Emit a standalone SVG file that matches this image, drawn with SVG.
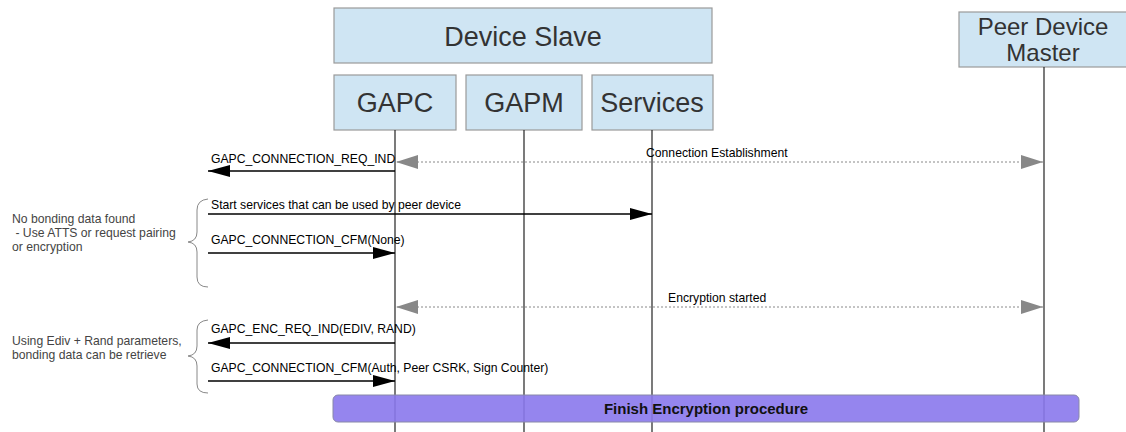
<svg xmlns="http://www.w3.org/2000/svg" width="1126" height="432" viewBox="0 0 1126 432">
<style>
.box{fill:#cfe5f3;stroke:#9a9a9a;stroke-width:1.2}
.hd{font-family:"Liberation Sans",Arial,sans-serif;fill:#333;text-anchor:middle}
.life{stroke:#222;stroke-width:1.2}
.msg{stroke:#000;stroke-width:1.3;fill:none}
.dash{stroke:#888;stroke-width:1;stroke-dasharray:2,2;fill:none}
.lbl{font-family:"Liberation Sans",Arial,sans-serif;font-size:12.2px;fill:#000}
.note{font-family:"Liberation Sans",Arial,sans-serif;font-size:12.2px;fill:#444}
.brace{fill:none;stroke:#888;stroke-width:1}
</style>
<defs>
<marker id="ah" markerWidth="22" markerHeight="12" refX="22" refY="6" orient="auto" markerUnits="userSpaceOnUse"><path d="M0,0 L22,6 L0,12 Z" fill="#000"/></marker>
<marker id="gh" markerWidth="22" markerHeight="14" refX="22" refY="7" orient="auto-start-reverse" markerUnits="userSpaceOnUse"><path d="M0,0 L22,7 L0,14 Z" fill="#888"/></marker>
</defs>
<rect x="0" y="0" width="1126" height="432" fill="#fff"/>
<g id="device-slave"><rect class="box" x="334" y="8" width="378" height="55"/><text class="hd" x="523" y="46" font-size="27">Device Slave</text></g>
<g id="gapc"><rect class="box" x="334" y="75" width="122" height="55"/><text class="hd" x="395" y="112" font-size="27">GAPC</text></g>
<g id="gapm"><rect class="box" x="466" y="75" width="116" height="55"/><text class="hd" x="524" y="112" font-size="27">GAPM</text></g>
<g id="services"><rect class="box" x="592" y="75" width="121" height="55"/><text class="hd" x="652" y="112" font-size="27">Services</text></g>
<g id="peer"><rect class="box" x="959" y="12" width="170" height="55"/><text class="hd" x="1043" y="35" font-size="24">Peer Device</text><text class="hd" x="1043" y="61" font-size="24">Master</text></g>
<g id="lifelines">
<line class="life" x1="395" y1="130" x2="395" y2="432"/>
<line class="life" x1="524" y1="130" x2="524" y2="432"/>
<line class="life" x1="652" y1="130" x2="652" y2="432"/>
<line class="life" x1="1044" y1="67" x2="1044" y2="432" stroke="#555"/>
</g>
<g id="notes">
<path class="brace" d="M208,199 Q197,200 197,210 L197,232 Q197,241 188,242 Q197,243 197,252 L197,277 Q197,287 208,287"/>
<path class="brace" d="M208,320 Q197,321 197,330 L197,346 Q197,355 188,356 Q197,357 197,366 L197,384 Q197,393 208,393"/>
<text class="note" x="12" y="223">No bonding data found</text>
<text class="note" x="12" y="237" xml:space="preserve"> - Use ATTS or request pairing</text>
<text class="note" x="12" y="251">or encryption</text>
<text class="note" x="12" y="345">Using Ediv + Rand parameters,</text>
<text class="note" x="12" y="359">bonding data can be retrieve</text>
</g>
<g id="connectors">
<line class="dash" x1="1043" y1="162" x2="396" y2="162" marker-start="url(#gh)" marker-end="url(#gh)"/>
<text class="lbl" x="646" y="157">Connection Establishment</text>
<line class="msg" x1="395" y1="171" x2="208" y2="171" marker-end="url(#ah)"/>
<text class="lbl" x="211" y="163">GAPC_CONNECTION_REQ_IND</text>
<line class="msg" x1="208" y1="214" x2="652" y2="214" marker-end="url(#ah)"/>
<text class="lbl" x="211" y="209">Start services that can be used by peer device</text>
<line class="msg" x1="208" y1="253" x2="395" y2="253" marker-end="url(#ah)"/>
<text class="lbl" x="211" y="244">GAPC_CONNECTION_CFM(None)</text>
<line class="dash" x1="1043" y1="307" x2="396" y2="307" marker-start="url(#gh)" marker-end="url(#gh)"/>
<text class="lbl" x="668" y="302">Encryption started</text>
<line class="msg" x1="395" y1="343" x2="208" y2="343" marker-end="url(#ah)"/>
<text class="lbl" x="211" y="333">GAPC_ENC_REQ_IND(EDIV, RAND)</text>
<line class="msg" x1="208" y1="381" x2="395" y2="381" marker-end="url(#ah)"/>
<text class="lbl" x="211" y="372">GAPC_CONNECTION_CFM(Auth, Peer CSRK, Sign Counter)</text>
</g>
<g id="finish">
<rect x="333" y="395" width="746" height="27" rx="5" fill="#8a78ec" fill-opacity="0.9" stroke="#8888a8" stroke-width="1"/>
<text x="706" y="414" font-family="'Liberation Sans',Arial,sans-serif" font-size="15" font-weight="bold" fill="#111" text-anchor="middle">Finish Encryption procedure</text>
</g>
</svg>
